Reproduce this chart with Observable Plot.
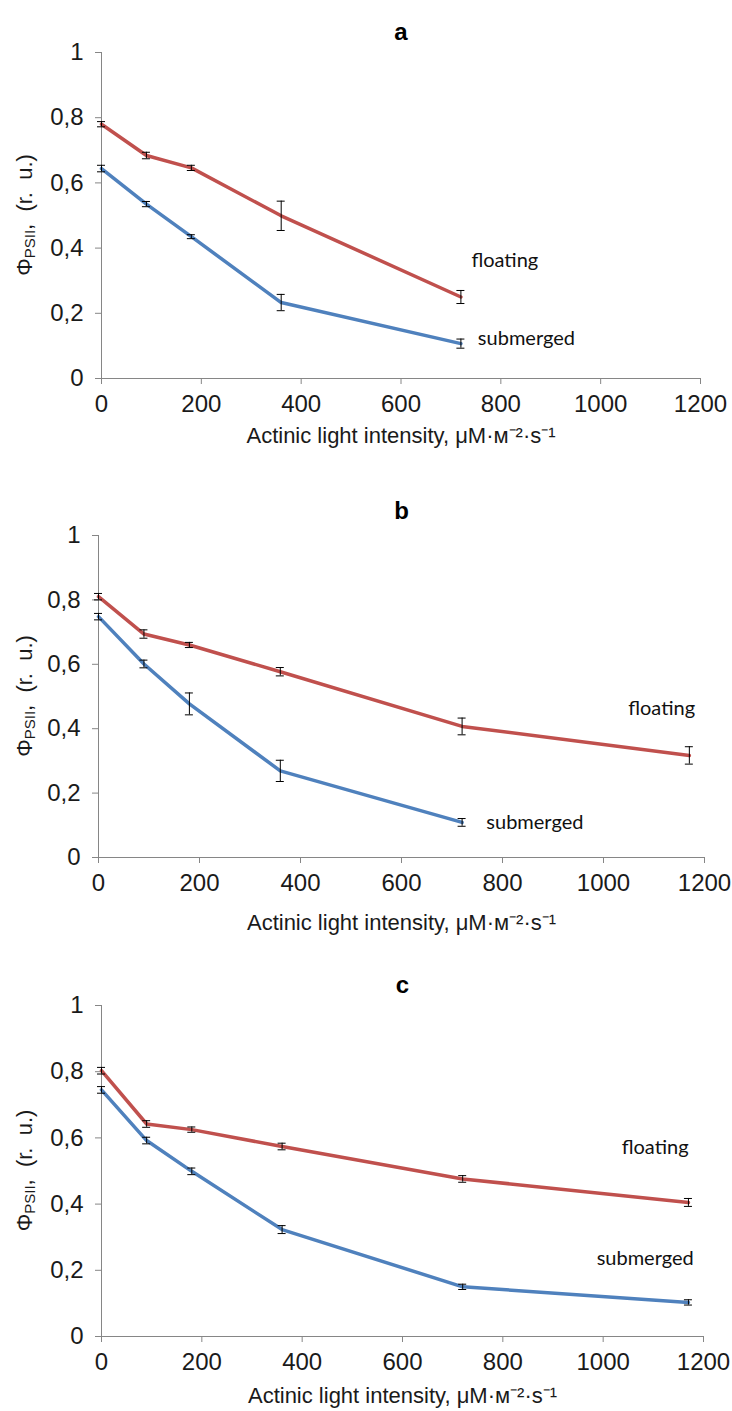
<!DOCTYPE html>
<html><head><meta charset="utf-8">
<script src="https://cdn.jsdelivr.net/npm/d3@7"></script>
<script src="https://cdn.jsdelivr.net/npm/@observablehq/plot@0.6"></script>
<style>
body{margin:0;background:#fff;}
#chart svg{display:block;}
</style>
</head><body><div id="chart"></div>
<script>
// ---- data ----
const panelNames = ["a", "b", "c"];
const xTicks = [0, 200, 400, 600, 800, 1000, 1200];
const yTicks = [0, 0.2, 0.4, 0.6, 0.8, 1];
const seriesNames = ["floating", "submerged"];
const xTitle = "Actinic light intensity, \u03bcM\u00b7\u043c\u207b\u00b2\u00b7s\u207b\u00b9";

const xA = [0, 90, 180, 360, 720];
const floatA = [0.78, 0.684, 0.646, 0.499, 0.250];
const floatErrA = [0.008, 0.01, 0.008, 0.045, 0.02];
const subA = [0.644, 0.535, 0.435, 0.233, 0.107];
const subErrA = [0.01, 0.008, 0.006, 0.025, 0.014];

const xB = [0, 90, 180, 360, 720, 1170];
const floatB = [0.810, 0.694, 0.660, 0.577, 0.407, 0.317];
const floatErrB = [0.01, 0.013, 0.008, 0.013, 0.026, 0.027];
const xBsub = [0, 90, 180, 360, 720];
const subB = [0.748, 0.601, 0.477, 0.269, 0.109];
const subErrB = [0.01, 0.012, 0.034, 0.033, 0.012];

const xC = [0, 90, 180, 360, 720, 1170];
const floatC = [0.803, 0.642, 0.625, 0.574, 0.476, 0.405];
const floatErrC = [0.01, 0.01, 0.008, 0.01, 0.01, 0.012];
const subC = [0.745, 0.592, 0.499, 0.323, 0.150, 0.103];
const subErrC = [0.01, 0.01, 0.01, 0.012, 0.008, 0.008];

// label anchor positions (data units)
const labelFloatX = [741, 1049, 1037];
const labelFloatY = [0.363, 0.461, 0.572];
const labelSubX = [754, 768, 987];
const labelSubY = [0.123, 0.109, 0.234];

// ---- layout ----
const layouts = [
  {height: 465, marginTop: 52, marginBottom: 87, marginLeft: 101, marginRight: 32, titleDy: -30, xTitleDy: 64},
  {height: 470, marginTop: 70, marginBottom: 78, marginLeft: 98, marginRight: 28, titleDy: -34, xTitleDy: 72},
  {height: 476, marginTop: 70, marginBottom: 75, marginLeft: 101, marginRight: 29, titleDy: -30, xTitleDy: 66}
];
const RED = "#C0504D", BLUE = "#4F81BD", AXIS = "#868686";

function rows(xs, ys, es, s) { return xs.map((x, i) => ({x, y: ys[i], e: es[i], s})); }

const panels = [
  {float: rows(xA, floatA, floatErrA, "floating"), sub: rows(xA, subA, subErrA, "submerged")},
  {float: rows(xB, floatB, floatErrB, "floating"), sub: rows(xBsub, subB, subErrB, "submerged")},
  {float: rows(xC, floatC, floatErrC, "floating"), sub: rows(xC, subC, subErrC, "submerged")}
];

const fmt = d => String(d).replace(".", ",");
const container = document.getElementById("chart");

panels.forEach((p, k) => {
  const L = layouts[k];
  const all = p.float.concat(p.sub);
  const labels = [
    {x: labelFloatX[k], y: labelFloatY[k], t: seriesNames[0]},
    {x: labelSubX[k], y: labelSubY[k], t: seriesNames[1]}
  ];
  const svg = Plot.plot({
    width: 732,
    height: L.height,
    marginTop: L.marginTop, marginBottom: L.marginBottom,
    marginLeft: L.marginLeft, marginRight: L.marginRight,
    style: {fontFamily: "'Liberation Sans', Arial, sans-serif", color: "#1a1a1a", background: "#fff"},
    x: {domain: [0, 1200]},
    y: {domain: [0, 1]},
    marks: [
      Plot.axisY({ticks: yTicks, tickFormat: fmt, tickSize: 6, tickPadding: 12, fontSize: 24, stroke: AXIS, label: null}),
      Plot.axisX({ticks: xTicks, tickFormat: d => String(d), tickSize: 6, tickPadding: 10, fontSize: 24, stroke: AXIS, label: null}),
      Plot.ruleX([0], {stroke: AXIS, strokeWidth: 1}),
      Plot.ruleY([0], {stroke: AXIS, strokeWidth: 1}),
      Plot.line(p.float, {x: "x", y: "y", stroke: RED, strokeWidth: 3.5}),
      Plot.line(p.sub, {x: "x", y: "y", stroke: BLUE, strokeWidth: 3.5}),
      Plot.ruleX(all, {x: "x", y1: d => d.y - d.e, y2: d => d.y + d.e, stroke: "#000", strokeWidth: 1}),
      Plot.ruleY(all, {y: d => d.y + d.e, x1: "x", x2: "x", insetLeft: -4, insetRight: -4, stroke: "#000", strokeWidth: 1}),
      Plot.ruleY(all, {y: d => d.y - d.e, x1: "x", x2: "x", insetLeft: -4, insetRight: -4, stroke: "#000", strokeWidth: 1}),
      Plot.text(labels, {x: "x", y: "y", text: "t", textAnchor: "start", fontSize: 20, fontFamily: "Lato, 'Open Sans', sans-serif", fill: "#111"}),
      Plot.text([panelNames[k]], {frameAnchor: "top", dy: L.titleDy, fontSize: 24, fontWeight: "bold", fill: "#000"}),
      Plot.text([xTitle], {frameAnchor: "bottom", dy: L.xTitleDy, fontSize: 22, fill: "#1a1a1a"})
    ]
  });
  // y-axis title with subscript
  const s = d3.select(svg);
  const cy = L.marginTop + (L.height - L.marginTop - L.marginBottom) / 2;
  const t = s.append("text")
    .attr("transform", `translate(32,${cy}) rotate(-90)`)
    .attr("text-anchor", "middle")
    .attr("font-size", 22)
    .attr("fill", "#1a1a1a")
    .attr("font-family", "'Liberation Sans', Arial, sans-serif");
  t.append("tspan").text("\u03a6");
  t.append("tspan").attr("font-size", 15).attr("dy", 3).text("PSII");
  t.append("tspan").attr("dy", -3).attr("xml:space", "preserve").text(",  (r.  u.)");
  container.appendChild(svg);
});
</script>
</body></html>
